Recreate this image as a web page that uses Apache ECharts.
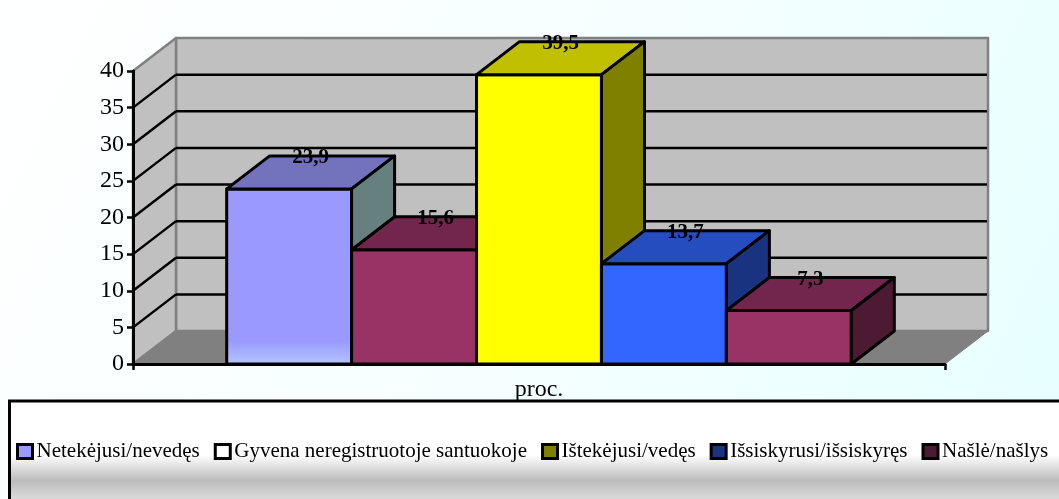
<!DOCTYPE html>
<html>
<head>
<meta charset="utf-8">
<style>
  html, body { margin: 0; padding: 0; background: #fff; }
  #chart { width: 1059px; height: 499px; }
</style>
<script src="https://cdn.jsdelivr.net/npm/echarts@6/dist/echarts.min.js"></script>
</head>
<body>
<div id="chart"></div>
<script>
// Marital status shares, in percent
const categories = ['proc.'];
const statusNames = [
  'Netekėjusi/nevedęs',
  'Gyvena neregistruotoje santuokoje',
  'Ištekėjusi/vedęs',
  'Išsiskyrusi/išsiskyręs',
  'Našlė/našlys'
];
const statusValues = [23.9, 15.6, 39.5, 13.7, 7.3];
const valueLabels = ['23,9', '15,6', '39,5', '13,7', '7,3'];
const yTicks = [0, 5, 10, 15, 20, 25, 30, 35, 40];

// Faux 3D look: shift of the back plane relative to the front plane
const DEPTH_X = 43;
const DEPTH_Y = -33;
const FONT = '"Liberation Serif", "Times New Roman", serif';

const barPalette = [
  {
    front: new echarts.graphic.LinearGradient(0, 0, 0, 1, [
      { offset: 0, color: '#9999ff' },
      { offset: 0.86, color: '#9999ff' },
      { offset: 1, color: '#b5c8ff' }
    ]),
    top: '#7373bd', side: '#668080'
  },
  { front: '#993366', top: '#73264d', side: '#4d1a33' },
  { front: '#ffff00', top: '#c0c000', side: '#808000' },
  { front: '#3366ff', top: '#264dc0', side: '#1a3380' },
  { front: '#993366', top: '#73264d', side: '#4d1a33' }
];
const legendSwatches = ['#9999ff', '#ffffff', '#808000', '#1a3380', '#4d1a33'];

function poly(points, fill, stroke, lineWidth) {
  return {
    type: 'polygon',
    shape: { points: points },
    style: { fill: fill, stroke: stroke, lineWidth: lineWidth, lineJoin: 'round' }
  };
}

function line(a, b, stroke, lineWidth) {
  return {
    type: 'line',
    shape: { x1: a[0], y1: a[1], x2: b[0], y2: b[1] },
    style: { stroke: stroke, lineWidth: lineWidth, lineCap: 'butt' }
  };
}

// Side wall, back wall, floor and gridlines, one datum per y tick
function renderWalls(params, api) {
  const v = api.value(1);
  const band = api.size([1, 0])[0];
  const mid = api.coord([0, v]);
  const left = mid[0] - band / 2;
  const right = mid[0] + band / 2;
  const y = mid[1];
  const backL = [left + DEPTH_X, y + DEPTH_Y];
  const backR = [right + DEPTH_X, y + DEPTH_Y];
  const children = [];
  if (v === yTicks[0]) {
    const h = mid[1] - api.coord([0, yTicks[yTicks.length - 1]])[1];
    children.push(
      poly([backL, backR, [backR[0], backR[1] - h], [backL[0], backL[1] - h]], '#c0c0c0', '#808080', 2.5),
      poly([[left, y], backL, [backL[0], backL[1] - h], [left, y - h]], '#c0c0c0', '#808080', 2.5),
      poly([[left, y], [right, y], backR, backL], '#808080', '#808080', 1)
    );
  } else if (v !== yTicks[yTicks.length - 1]) {
    children.push(
      line([left, y], backL, '#000', 2.5),
      line(backL, [backR[0] - 1, backR[1]], '#000', 2.5)
    );
  }
  return { type: 'group', children: children };
}

// One box per status, clustered within the single category band
function renderBox(params, api) {
  const i = params.seriesIndex - 1;
  const value = api.value(1);
  const band = api.size([1, 0])[0];
  const n = statusValues.length;
  const barW = band / (n + 1.5);
  const base = api.coord([0, 0]);
  const tip = api.coord([0, value]);
  const x0 = base[0] - band / 2 + barW * (0.75 + i);
  const x1 = x0 + barW;
  const yB = base[1];
  const yT = tip[1];
  const c = barPalette[i];
  const edge = { stroke: '#000', width: 3 };
  return {
    type: 'group',
    children: [
      poly([[x0, yB], [x1, yB], [x1, yT], [x0, yT]], c.front, edge.stroke, edge.width),
      poly([[x0, yT], [x1, yT], [x1 + DEPTH_X, yT + DEPTH_Y], [x0 + DEPTH_X, yT + DEPTH_Y]], c.top, edge.stroke, edge.width),
      poly([[x1, yB], [x1 + DEPTH_X, yB + DEPTH_Y], [x1 + DEPTH_X, yT + DEPTH_Y], [x1, yT]], c.side, edge.stroke, edge.width),
      {
        type: 'text',
        z2: 10,
        style: {
          text: valueLabels[i],
          x: (x0 + x1) / 2 + DEPTH_X / 2,
          y: yT + DEPTH_Y + 2,
          align: 'center',
          verticalAlign: 'middle',
          font: 'bold 21px ' + FONT,
          fill: '#000'
        }
      }
    ]
  };
}

const chart = echarts.init(document.getElementById('chart'), null, { renderer: 'canvas' });

const boxSeries = statusNames.map(function (name, i) {
  return {
    type: 'custom',
    name: name,
    coordinateSystem: 'cartesian2d',
    renderItem: renderBox,
    encode: { x: 0, y: 1 },
    itemStyle: { color: legendSwatches[i] },
    data: [[0, statusValues[i]]],
    silent: true
  };
});

chart.setOption({
  animation: false,
  backgroundColor: new echarts.graphic.LinearGradient(0, 0, 1, 1, [
    { offset: 0, color: '#ffffff' },
    { offset: 0.5, color: '#f6ffff' },
    { offset: 1, color: '#e6ffff' }
  ]),
  textStyle: { fontFamily: FONT },
  grid: { left: 133, top: 71, width: 812, height: 293, containLabel: false },
  xAxis: {
    type: 'category',
    data: categories,
    boundaryGap: true,
    axisLine: { show: true, lineStyle: { color: '#000', width: 3 } },
    axisTick: { show: true, length: 6, alignWithLabel: false, lineStyle: { color: '#000', width: 2.5 } },
    axisLabel: { color: '#000', fontSize: 24, fontFamily: FONT, margin: 14 },
    splitLine: { show: false },
    z: 6
  },
  yAxis: {
    type: 'value',
    min: 0,
    max: 40,
    interval: 5,
    axisLine: { show: true, lineStyle: { color: '#000', width: 3 } },
    axisTick: { show: true, length: 6, lineStyle: { color: '#000', width: 2.5 } },
    axisLabel: { color: '#000', fontSize: 24, fontFamily: FONT, margin: 9 },
    splitLine: { show: false },
    z: 6
  },
  legend: {
    left: 16,
    top: 441,
    width: 1043,
    padding: 0,
    itemWidth: 15,
    itemHeight: 14,
    itemGap: 14,
    icon: 'rect',
    textStyle: { color: '#000', fontSize: 21, fontFamily: FONT, padding: [0, 0, 0, -1] },
    selectedMode: false,
    data: statusNames.map(function (name, i) {
      return {
        name: name,
        itemStyle: { color: legendSwatches[i], borderColor: '#000', borderWidth: 3 }
      };
    })
  },
  graphic: [{
    type: 'rect',
    silent: true,
    z: 1,
    shape: { x: 9.5, y: 401, width: 1060, height: 108 },
    style: {
      stroke: '#000',
      lineWidth: 3,
      fill: new echarts.graphic.LinearGradient(0, 0, 0, 1, [
        { offset: 0, color: '#ffffff' },
        { offset: 0.5, color: '#ffffff' },
        { offset: 0.73, color: '#bcbcbc' },
        { offset: 0.92, color: '#dedede' },
        { offset: 1, color: '#e8e8e8' }
      ])
    }
  }],
  series: [{
    type: 'custom',
    name: 'walls',
    coordinateSystem: 'cartesian2d',
    renderItem: renderWalls,
    encode: { x: 0, y: 1 },
    data: yTicks.map(function (v) { return [0, v]; }),
    silent: true
  }].concat(boxSeries)
});
</script>
</body>
</html>
